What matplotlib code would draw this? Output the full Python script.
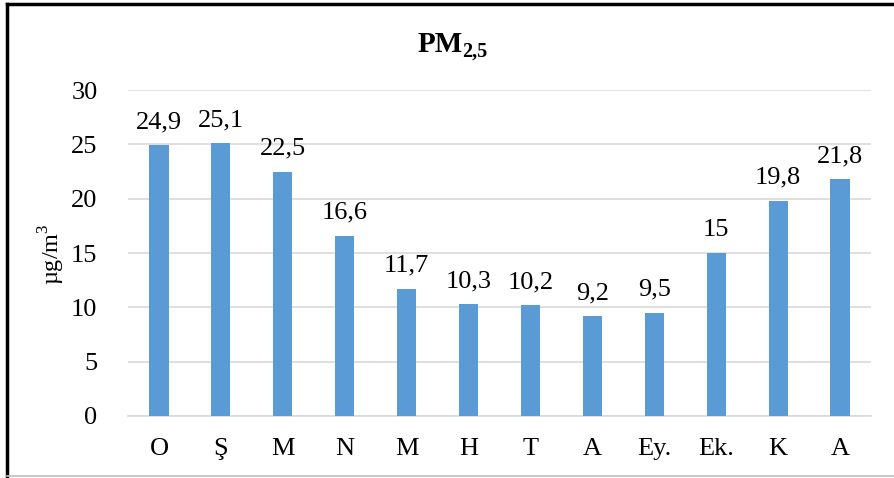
import matplotlib
matplotlib.use("Agg")
import matplotlib.pyplot as plt
from matplotlib.lines import Line2D
import numpy as np

categories = ["O", "Ş", "M", "N", "M", "H", "T", "A", "Ey.", "Ek.", "K", "A"]
values = [24.9, 25.1, 22.5, 16.6, 11.7, 10.3, 10.2, 9.2, 9.5, 15, 19.8, 21.8]
labels = ["24,9", "25,1", "22,5", "16,6", "11,7", "10,3", "10,2", "9,2", "9,5", "15", "19,8", "21,8"]
yticks = [0, 5, 10, 15, 20, 25, 30]

plt.rcParams['font.family'] = ['Liberation Serif', 'DejaVu Serif']
plt.rcParams['mathtext.fontset'] = 'custom'
plt.rcParams['mathtext.rm'] = 'Liberation Serif'
plt.rcParams['mathtext.bf'] = 'Liberation Serif:bold'

fig = plt.figure(figsize=(8.94, 4.78), dpi=100)
W, H = 894, 478
ax = fig.add_axes([128 / W, 1 - 416 / H, (871 - 128) / W, (416 - 90) / H])

x = np.arange(len(categories))
ax.bar(x, values, width=0.31, color="#5B9BD5", zorder=3)
for xi, v, lab in zip(x, values, labels):
    ax.text(xi, v + 1.1, lab, ha="center", va="bottom", fontsize=19, color="black")

ax.set_xlim(-0.5, len(categories) - 0.5)
ax.set_ylim(0, 30)
ax.set_yticks(yticks)
ax.set_yticklabels([str(t) for t in yticks], fontsize=19)
ax.set_xticks(x)
ax.set_xticklabels(categories, fontsize=19)
ax.tick_params(axis="x", length=0, pad=16)
ax.tick_params(axis="y", length=0, pad=22)
ax.grid(axis="y", color="#d9d9d9", linewidth=1.2, zorder=0)
for s in ["top", "right", "left"]:
    ax.spines[s].set_visible(False)
ax.spines["bottom"].set_color("#d9d9d9")
ax.spines["bottom"].set_linewidth(1.2)

fig.text(52 / W, 1 - 254 / H, "µg/m$^3$", rotation=90, ha="center", va="center", fontsize=17.5)
fig.text(463 / W, 1 - 52 / H, "PM", ha="right", va="baseline", fontsize=21, fontweight="bold")
fig.text(462 / W, 1 - 57 / H, "2,5", ha="left", va="baseline", fontsize=14.5, fontweight="bold")

# frame
fig.add_artist(Line2D([7 / W, 7 / W], [0, 1 - 3.5 / H], color="black", linewidth=2.5, transform=fig.transFigure))
fig.add_artist(Line2D([7 / W, 1], [1 - 3.5 / H, 1 - 3.5 / H], color="black", linewidth=2.5, transform=fig.transFigure))
fig.add_artist(Line2D([7 / W, 1], [1 - 476 / H, 1 - 476 / H], color="#bfbfbf", linewidth=1.2, transform=fig.transFigure))

fig.savefig("out.png", dpi=100)
